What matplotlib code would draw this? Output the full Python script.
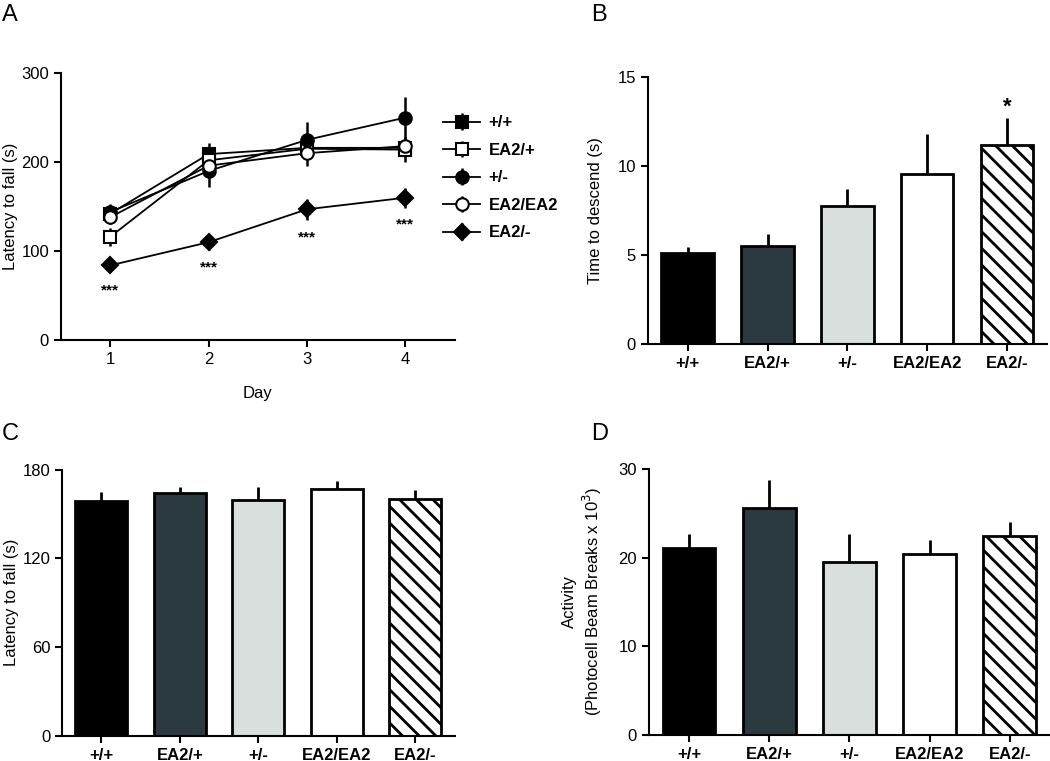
import numpy as np
import matplotlib.pyplot as plt

plt.rcParams['font.family'] = ['Liberation Sans', 'DejaVu Sans']

# Panel A: latency to fall across days
days = [1, 2, 3, 4]
line_groups = ['+/+', 'EA2/+', '+/-', 'EA2/EA2', 'EA2/-']
line_means = {
    '+/+':     [142, 209, 216, 216],
    'EA2/+':   [116, 202, 215, 214],
    '+/-':     [144, 190, 225, 250],
    'EA2/EA2': [138, 196, 210, 218],
    'EA2/-':   [84, 110, 147, 160],
}
line_errs = {
    '+/+':     [8, 12, 10, 10],
    'EA2/+':   [10, 12, 10, 14],
    '+/-':     [9, 18, 20, 23],
    'EA2/EA2': [8, 10, 14, 10],
    'EA2/-':   [4, 9, 12, 11],
}
sig_A = [56, 82, 115, 130]

# Panels B-D: bar charts
genotypes = ['+/+', 'EA2/+', '+/-', 'EA2/EA2', 'EA2/-']
descend_mean = [5.1, 5.5, 7.75, 9.55, 11.15]
descend_err = [0.35, 0.7, 0.95, 2.25, 1.55]
rotarod_mean = [158.6, 164, 159.5, 166.7, 160.4]
rotarod_err = [6.5, 4.5, 9, 5.6, 5.6]
activity_mean = [21.1, 25.6, 19.5, 20.4, 22.45]
activity_err = [1.6, 3.1, 3.1, 1.6, 1.6]

bar_colors = ['black', '#2b3a3e', '#d8dfdd', 'white', 'white']
bar_hatch = [None, None, None, None, '\\\\']

markers = {'+/+': ('s', 'black'), 'EA2/+': ('s', 'white'), '+/-': ('o', 'black'),
           'EA2/EA2': ('o', 'white'), 'EA2/-': ('D', 'black')}

plt.rcParams['hatch.linewidth'] = 2.0

fig = plt.figure(figsize=(10.5, 7.61), dpi=100)

def style(ax):
    for s in ['top', 'right']:
        ax.spines[s].set_visible(False)
    for s in ['left', 'bottom']:
        ax.spines[s].set_linewidth(1.5)
    ax.tick_params(width=1.5, length=5, labelsize=12)

# A
axA = fig.add_axes([0.058, 0.553, 0.375, 0.351])
for g in line_groups:
    m, fc = markers[g]
    ms = 8 if m == 'D' else 9
    axA.errorbar(days, line_means[g], yerr=line_errs[g], color='black', lw=1.3,
                 elinewidth=1.8, capsize=0, marker=m, ms=ms, mfc=fc, mec='black',
                 mew=1.5, label=g)
for d, y in zip(days, sig_A):
    axA.text(d, y, '***', ha='center', va='center', fontsize=11, fontweight='bold')
axA.set_xlim(0.5, 4.5)
axA.set_ylim(0, 300)
axA.set_xticks(days)
axA.set_yticks([0, 100, 200, 300])
axA.set_xlabel('Day', fontsize=12, labelpad=14)
axA.set_ylabel('Latency to fall (s)', fontsize=12)
axA.yaxis.set_label_coords(-0.108, 0.5)
style(axA)
axA.legend(loc='upper left', bbox_to_anchor=(0.408, 0.868), bbox_transform=fig.transFigure,
           frameon=False, handlelength=2.2, handletextpad=0.5,
           labelspacing=0.75, prop={'weight': 'bold', 'size': 12})

def bars(ax, means, errs, ylim, yticks, ylabel, labx):
    x = np.arange(len(genotypes))
    b = ax.bar(x, means, width=0.66, color=bar_colors, edgecolor='black', linewidth=2, zorder=2)
    for patch, h in zip(b, bar_hatch):
        if h:
            patch.set_hatch(h)
    ax.errorbar(x, means, yerr=[np.zeros(len(errs)), errs], fmt='none', ecolor='black',
                elinewidth=2, capsize=0, zorder=1)
    ax.set_xlim(-0.5, 4.5)
    ax.set_ylim(*ylim)
    ax.set_yticks(yticks)
    ax.set_xticks(x)
    ax.set_xticklabels(genotypes, fontweight='bold')
    ax.set_ylabel(ylabel, fontsize=12)
    ax.yaxis.set_label_coords(labx, 0.5)
    style(ax)
    return x

# B
axB = fig.add_axes([0.617, 0.548, 0.38, 0.351])
xB = bars(axB, descend_mean, descend_err, (0, 15), [0, 5, 10, 15], 'Time to descend (s)', -0.112)
axB.text(xB[4], descend_mean[4] + descend_err[4] + 0.6, '*', ha='center', va='center',
         fontsize=16, fontweight='bold')

# C
axC = fig.add_axes([0.059, 0.033, 0.374, 0.35])
bars(axC, rotarod_mean, rotarod_err, (0, 180), [0, 60, 120, 180], 'Latency to fall (s)', -0.11)

# D
axD = fig.add_axes([0.618, 0.034, 0.382, 0.35])
bars(axD, activity_mean, activity_err, (0, 30), [0, 10, 20, 30],
     'Activity\n(Photocell Beam Breaks x 10$^3$)', -0.112)

for lbl, x, y in [('A', 0.002, 0.98), ('B', 0.563, 0.98), ('C', 0.002, 0.43), ('D', 0.563, 0.43)]:
    fig.text(x, y, lbl, fontsize=17, ha='left', va='center')

fig.savefig('out.png', dpi=100)
